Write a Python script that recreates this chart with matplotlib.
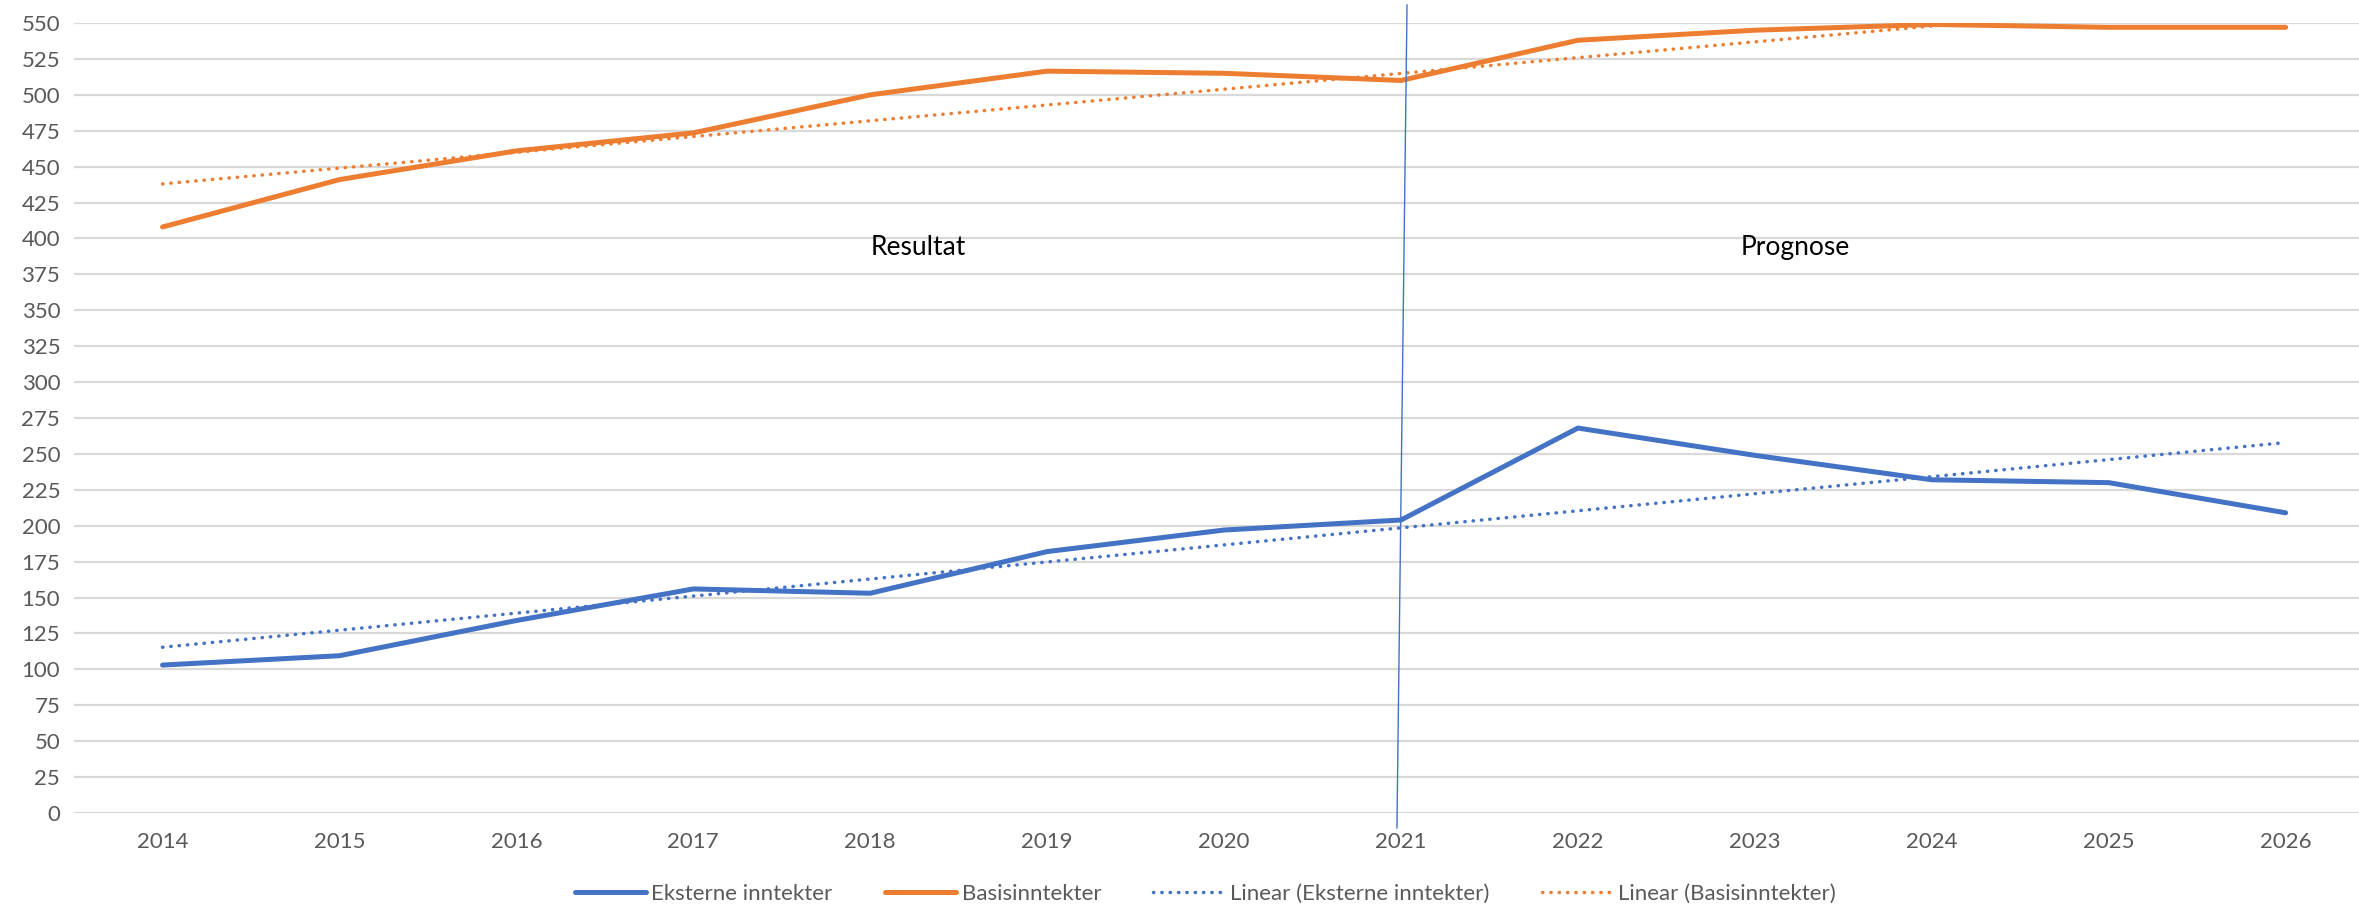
import numpy as np
import matplotlib.pyplot as plt

# Data
years = ['2014', '2015', '2016', '2017', '2018', '2019', '2020',
         '2021', '2022', '2023', '2024', '2025', '2026']
eksterne = [103, 109.5, 134, 156, 153, 182, 197, 204, 268, 249, 232, 230, 209]
basis = [408, 441, 461, 473.5, 500, 516.5, 515, 510, 538, 545, 549, 547, 547]
y_ticks = list(range(0, 551, 25))

# Divider between actuals and forecast (slightly tilted in the original)
divider_x = [6.977, 7.034]
divider_y = [-10.4, 562.5]

BLUE = '#4472C4'
ORANGE = '#ED7D31'
GREY_TXT = '#595959'
GRID = '#D9D9D9'

plt.rcParams['font.family'] = ['Lato', 'DejaVu Sans']


def trend(values):
    """Linear trendline like Excel's."""
    x = np.arange(len(values))
    k, m = np.polyfit(x, values, 1)
    return k * x + m


def main():
    fig = plt.figure(figsize=(23.59, 9.10), dpi=100)
    ax = fig.add_axes([0.0314, 0.1066, 0.975, 0.8681])

    x = np.arange(len(years))
    ax.plot(x, eksterne, color=BLUE, lw=3.6, solid_capstyle='round',
            label='Eksterne inntekter', zorder=4)
    ax.plot(x, basis, color=ORANGE, lw=3.6, solid_capstyle='round',
            label='Basisinntekter', zorder=4)
    ax.plot(x, trend(eksterne), color=BLUE, lw=2.5, linestyle=(0, (0.1, 2.3)),
            dash_capstyle='round', label='Linear (Eksterne inntekter)', zorder=3)
    ax.plot(x, trend(basis), color=ORANGE, lw=2.5, linestyle=(0, (0.1, 2.3)),
            dash_capstyle='round', label='Linear (Basisinntekter)', zorder=3)

    ax.plot(divider_x, divider_y, color=BLUE, lw=1.0, clip_on=False, zorder=5)

    ax.text(4.27, 394, 'Resultat', fontsize=19, color='black',
            ha='center', va='center')
    ax.text(9.23, 394, 'Prognose', fontsize=19, color='black',
            ha='center', va='center')

    ax.set_xlim(-0.5, 12.5)
    ax.set_ylim(0, 550)
    ax.set_xticks(x)
    ax.set_xticklabels(years)
    ax.set_yticks(y_ticks)
    ax.tick_params(axis='both', length=0, labelsize=16, colors=GREY_TXT)
    ax.tick_params(axis='x', pad=14)
    ax.tick_params(axis='y', pad=10)
    ax.grid(axis='y', color=GRID, lw=1.6)
    ax.set_axisbelow(True)
    for side in ax.spines.values():
        side.set_visible(False)

    handles, labels = ax.get_legend_handles_labels()
    leg = fig.legend(handles, labels, loc='center', ncol=4,
                     bbox_to_anchor=(0.511, 0.0176), frameon=False,
                     fontsize=16, handlelength=3.2, handletextpad=0.25,
                     columnspacing=2.35)
    for t in leg.get_texts():
        t.set_color(GREY_TXT)

    fig.savefig('out.png', dpi=100)
    plt.close(fig)


if __name__ == '__main__':
    main()
